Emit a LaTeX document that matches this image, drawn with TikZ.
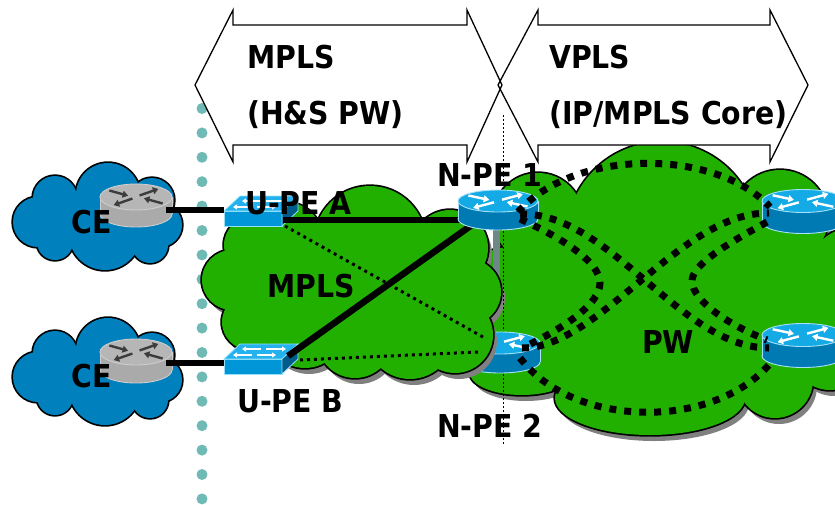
\documentclass[tikz,border=0pt]{standalone}
\usepackage{fontspec}
\newfontfamily\lblfont[FakeStretch=0.9]{DejaVu Sans}
\usetikzlibrary{arrows.meta,calc}

\definecolor{railteal}{RGB}{112,186,182}
\definecolor{ceblue}{RGB}{0,128,188}
\definecolor{mplsgreen}{RGB}{34,176,0}
\definecolor{cloudshade}{RGB}{128,128,128}
\definecolor{rtrtop}{RGB}{20,170,230}
\definecolor{rtrside}{RGB}{0,122,178}
\definecolor{rtredge}{RGB}{165,225,250}
\definecolor{cetop}{RGB}{182,182,182}
\definecolor{ceside}{RGB}{170,170,170}
\definecolor{ceedge}{RGB}{205,205,205}
\definecolor{cearrow}{RGB}{60,60,60}
\definecolor{swtop}{RGB}{35,178,238}
\definecolor{swfront}{RGB}{0,150,215}
\definecolor{swside}{RGB}{0,92,138}
\definecolor{swedge}{RGB}{150,225,250}
\definecolor{stubgray}{RGB}{110,135,135}

\tikzset{
  lbl/.style={font=\lblfont\bfseries\fontsize{31.5}{36}\selectfont,
              anchor=base west, inner sep=0pt, text=black},
  spanarrow/.style={draw=black, line width=1.3pt, line join=miter},
  trunk/.style={line width=6.5pt, black},
  thindots/.style={line width=3pt, dash pattern=on 3pt off 4pt, black},
  pwdots/.style={line width=7pt, dash pattern=on 7pt off 8pt, black},
  sepline/.style={line width=1.2pt, dash pattern=on 2pt off 2pt, black},
}

% cloud outlines: puffs listed in order round the rim, x/y/rx/ry
\newcommand\cepuffs{38/222/25/25, 55/198/22/22, 108/195/32/32, 152/200/22/22,
  160/225/22/22, 150/245/18/18, 105/234/36/36, 55/242/18/18}
\newcommand\leftpuffs{285/240/38/38, 370/242/56/56, 450/248/38/38, 468/292/33/33,
  455/335/38/38, 410/335/44/44, 355/340/38/38, 305/328/40/40, 250/322/28/28,
  232/280/30/30, 252/245/28/28}
\newcommand\rightpuffs{538/218/45/45, 662/238/96/96, 780/218/48/48, 855/275/48/48,
  830/352/38/38, 775/380/38/38, 650/398/95/37, 522/373/52/22, 505/345/28/28,
  510/295/48/48}

% shadow, rim and body of a cloud; the extra argument is the first puff centre
\newcommand\puffshadow[2]{%
  \begin{scope}[shift={(4,6)}]
    \fill[cloudshade] #2 \foreach \cx/\cy/\rx/\ry in #1 {-- (\cx,\cy)} -- cycle;
    \foreach \cx/\cy/\rx/\ry in #1 {\fill[cloudshade] (\cx,\cy) ellipse [x radius=\rx, y radius=\ry];}
  \end{scope}}
\newcommand\puffcloud[3]{%
  \foreach \cx/\cy/\rx/\ry in #2 {\draw[line width=3.4pt] (\cx,\cy) ellipse [x radius=\rx, y radius=\ry];}
  \fill[#1] #3 \foreach \cx/\cy/\rx/\ry in #2 {-- (\cx,\cy)} -- cycle;
  \foreach \cx/\cy/\rx/\ry in #2 {\fill[#1] (\cx,\cy) ellipse [x radius=\rx, y radius=\ry];}}

% router cylinder: top, side, edge, arrow colour, rx, ry, height
\newcommand\rtrglyph[7]{%
  \filldraw[fill=#2, draw=#3, line width=0.9pt] (0,#7) ellipse [x radius=#5, y radius=#6];
  \fill[#2] (-#5,0) rectangle (#5,#7);
  \draw[#3, line width=0.9pt] (-#5,0) -- (-#5,#7) (#5,0) -- (#5,#7);
  \filldraw[fill=#1, draw=#3, line width=0.9pt] (0,0) ellipse [x radius=#5, y radius=#6];
  \begin{scope}[#4, line width=2.4pt, -{Triangle[length=5.5pt,width=7pt]}]
    \draw ({0.10*#5},{-0.12*#6}) -- ({0.62*#5},{-0.62*#6});
    \draw ({-0.10*#5},{0.12*#6}) -- ({-0.62*#5},{0.62*#6});
    \draw ({-0.74*#5},{-0.50*#6}) -- ({-0.22*#5},{-0.10*#6});
    \draw ({0.74*#5},{0.50*#6}) -- ({0.22*#5},{0.10*#6});
  \end{scope}}

% workgroup switch, origin at the top-left corner of the front face
\newcommand\swglyph{%
  \filldraw[fill=swfront, draw=swedge, line width=0.8pt] (0,0) rectangle (58,15);
  \filldraw[fill=swtop, draw=swedge, line width=0.8pt] (0,0) -- (58,0) -- (74,-15) -- (16,-15) -- cycle;
  \filldraw[fill=swside, draw=swedge, line width=0.8pt] (58,0) -- (74,-15) -- (74,0) -- (58,15) -- cycle;
  \begin{scope}[white, line width=1.8pt, -{Triangle[length=4pt,width=5pt]}]
    \draw (37,-10) -- (18,-10);
    \draw (42,-10) -- (62,-10);
    \draw (28,-4) -- (9,-4);
    \draw (33,-4) -- (52,-4);
  \end{scope}}

\begin{document}
\begin{tikzpicture}[x=1pt,y=-1pt]
\useasboundingbox (0,0) rectangle (835,504);
\clip (0,0) rectangle (835,504);

% boundary rail of dots
\foreach \k in {0,...,16} {\fill[railteal] (202,{108.5+24.4*\k}) circle [radius=5.5];}

% customer clouds
\puffcloud{ceblue}{\cepuffs}{(38,222)}
\begin{scope}[shift={(0,155)}]
  \puffcloud{ceblue}{\cepuffs}{(38,222)}
\end{scope}

% VPLS core cloud
\puffshadow{\rightpuffs}{(538,218)}
\puffcloud{mplsgreen}{\rightpuffs}{(538,218)}
\fill[stubgray] (493,226) rectangle (500,303);

% node positions
\coordinate (npe1) at (498,201);
\coordinate (npe2) at (500,343);
\coordinate (pe3) at (803,201);
\coordinate (pe4) at (803,335);
\coordinate (ceA) at (136,197);
\coordinate (ceB) at (136,352);
\coordinate (upeA) at (224,211);
\coordinate (upeB) at (224,359);

\begin{scope}[shift={(npe2)}]
  \rtrglyph{rtrtop}{rtrside}{rtredge}{white}{40}{11}{19}
\end{scope}

% access MPLS cloud
\puffshadow{\leftpuffs}{(285,240)}
\puffcloud{mplsgreen}{\leftpuffs}{(285,240)}

% span arrows
\path[fill=white] (195,85) -- (233,10) -- (233,25) -- (467,25) -- (467,10) -- (502,85)
  -- (467,162) -- (467,145) -- (233,145) -- (233,162) -- cycle;
\path[fill=white] (498,85) -- (538,10) -- (538,25) -- (770,25) -- (770,10) -- (808,85)
  -- (770,162) -- (770,145) -- (538,145) -- (538,162) -- cycle;
\path[spanarrow] (195,85) -- (233,10) -- (233,25) -- (467,25) -- (467,10) -- (502,85)
  -- (467,162) -- (467,145) -- (233,145) -- (233,162) -- cycle;
\path[spanarrow] (498,85) -- (538,10) -- (538,25) -- (770,25) -- (770,10) -- (808,85)
  -- (770,162) -- (770,145) -- (538,145) -- (538,162) -- cycle;

% domain separator
\coordinate (sepA) at (503.5,115);
\coordinate (sepB) at (503.5,331);
\coordinate (sepC) at (503.5,374);
\coordinate (sepD) at (503.5,445);
\draw[sepline] (sepA) -- (sepB);
\draw[sepline] (sepC) -- (sepD);

% CE routers
\begin{scope}[shift={(ceA)}]
  \rtrglyph{cetop}{ceside}{ceedge}{cearrow}{36}{13}{17}
\end{scope}
\begin{scope}[shift={(ceB)}]
  \rtrglyph{cetop}{ceside}{ceedge}{cearrow}{36}{13}{18}
\end{scope}

% U-PE switches
\begin{scope}[shift={(upeA)}] \swglyph \end{scope}
\begin{scope}[shift={(upeB)}] \swglyph \end{scope}

% attachment circuits and spokes
\draw[trunk] ($(ceA)+(30,13)$) -- ($(upeA)+(0,-1)$);
\draw[trunk] ($(ceB)+(30,11)$) -- ($(upeB)+(0,4)$);
\draw[trunk] ($(upeA)+(59,9)$) -- ($(npe1)+(-28,19)$);
\draw[trunk] ($(upeB)+(64,-3)$) -- ($(npe1)+(-22,21)$);
\draw[thindots] ($(upeA)+(61,15)$) -- ($(npe2)+(-17,-6)$);
\draw[thindots] ($(upeB)+(76,1)$) -- ($(npe2)+(-22,9)$);

% N-PE and remote PE routers
\begin{scope}[shift={(npe1)}]
  \rtrglyph{rtrtop}{rtrside}{rtredge}{white}{40}{11}{18}
\end{scope}
\begin{scope}[shift={(pe3)}]
  \rtrglyph{rtrtop}{rtrside}{rtredge}{white}{41}{11.5}{21}
\end{scope}
\begin{scope}[shift={(pe4)}]
  \rtrglyph{rtrtop}{rtrside}{rtredge}{white}{41}{11.5}{21}
\end{scope}

% full mesh of pseudowires
\coordinate (p1a) at ($(npe1)+(20,11)$);
\coordinate (p1b) at ($(npe1)+(22,13)$);
\coordinate (p1c) at ($(npe1)+(22,18)$);
\coordinate (p2b) at ($(npe2)+(22,5)$);
\coordinate (p2c) at ($(npe2)+(24,4)$);
\coordinate (p2d) at ($(npe2)+(20,15)$);
\coordinate (r3a) at ($(pe3)+(-33,6)$);
\coordinate (r3b) at ($(pe3)+(-34,12)$);
\coordinate (r3c) at ($(pe3)+(-36,21)$);
\coordinate (r4b) at ($(pe4)+(-34,13)$);
\coordinate (r4c) at ($(pe4)+(-36,5)$);
\coordinate (r4d) at ($(pe4)+(-30,25)$);
\draw[pwdots] (p1a) .. controls (575,148) and (715,148) .. (r3a);
\draw[pwdots] (p1b) .. controls (610,212) and (680,348) .. (r4b);
\draw[pwdots] (p2b) .. controls (600,348) and (680,212) .. (r3b);
\draw[pwdots] (p1c) .. controls (562,238) and (600,262) .. (600,283)
  .. controls (600,305) and (560,330) .. (p2c);
\draw[pwdots] (r3c) .. controls (725,245) and (692,265) .. (692,281)
  .. controls (692,300) and (728,325) .. (r4c);
\draw[pwdots] (p2d) .. controls (575,430) and (718,430) .. (r4d);

% labels
\node[lbl] (tMPLS) at (247,68) {MPLS};
\node[lbl] (tHS) at (247,124) {(H\&S PW)};
\node[lbl] (tVPLS) at (549,68) {VPLS};
\node[lbl] (tCore) at (549,124) {(IP/MPLS Core)};
\node[lbl] (tNPE1) at (437,186) {N-PE 1};
\node[lbl] (tUPEA) at (245,214) {U-PE A};
\node[lbl] (tCE1) at (71,233) {CE};
\node[lbl] (tMPLS2) at (267,297) {MPLS};
\node[lbl] (tPW) at (642,353) {PW};
\node[lbl] (tCE2) at (71,387) {CE};
\node[lbl] (tUPEB) at (237,412) {U-PE B};
\node[lbl] (tNPE2) at (437,437) {N-PE 2};
\end{tikzpicture}
\end{document}
